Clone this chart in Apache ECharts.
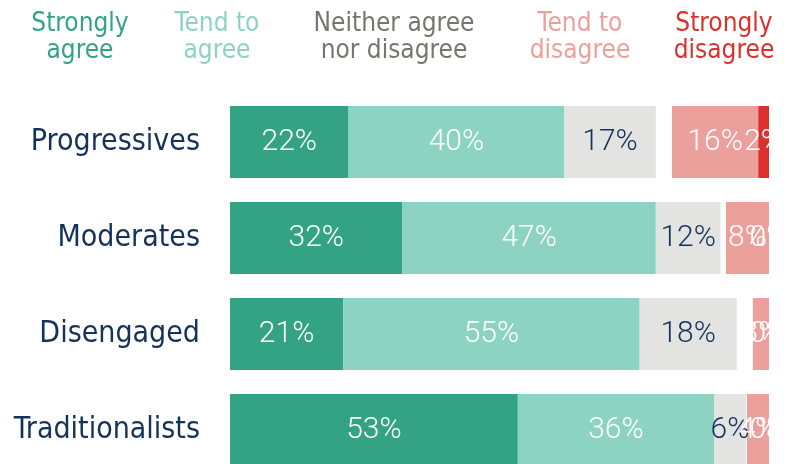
<!DOCTYPE html>
<html style="height: 100%">

<head>
    <meta charset="utf-8">
    <title>index</title>
    <style>
        html, body { margin: 0; padding: 0; background: #fff; }
        #container {
            width: 794px;
            height: 464px;
        }
    </style>
</head>

<body>
    <div id="container"></div>
</body>
<script src="https://cdn.jsdelivr.net/npm/echarts@6/dist/echarts.min.js"></script>
<script type="text/javascript">
    // data
    var categories = ['Progressives', 'Moderates', 'Disengaged', 'Traditionalists'];
    var stronglyAgree = [22, 32, 21, 53.4];
    var tendAgree = [40, 47, 55, 36.4];
    var neither = [17, 12, 18, 5.9];
    var tendDisagree = [16, 8, 3, 4.1];
    var stronglyDisagree = [2, 0, 0, 0];
    var headers = ['Strongly\nagree', 'Tend to\nagree', 'Neither agree\nnor disagree', 'Tend to\ndisagree', 'Strongly\ndisagree'];

    var colors = ['#33a384', '#8cd3c1', '#e3e3e1', '#eba09b', '#dc302c'];
    var headColors = ['#33a384', '#8cd3c1', '#74776c', '#eba09b', '#dc302c'];
    var navy = '#14325a';
    var catFont = 'DejaVu Sans Condensed';
    var numFont = 'Roboto';

    // gap between agree side and disagree side (disagree is right aligned at 100)
    var spacer = categories.map(function (c, i) {
        return Math.max(0, 100 - stronglyAgree[i] - tendAgree[i] - neither[i] - tendDisagree[i] - stronglyDisagree[i]);
    });

    function seg(name, data, color, textColor) {
        return {
            name: name,
            type: 'bar',
            stack: 'all',
            data: data,
            barWidth: 72,
            clip: false,
            itemStyle: { color: color },
            label: {
                show: true,
                position: 'inside',
                color: textColor,
                fontFamily: numFont,
                fontWeight: 300,
                fontSize: 30,
                formatter: function (p) { return Math.round(p.value) + '%'; }
            },
            emphasis: { disabled: true },
            animation: false
        };
    }

    var series = [
        seg('Strongly agree', stronglyAgree, colors[0], '#fff'),
        seg('Tend to agree', tendAgree, colors[1], '#fff'),
        seg('Neither', neither, colors[2], navy),
        {
            name: 'gap', type: 'bar', stack: 'all', data: spacer, barWidth: 72, clip: false,
            itemStyle: { color: 'rgba(0,0,0,0)' }, label: { show: false },
            emphasis: { disabled: true }, animation: false
        },
        seg('Tend to disagree', tendDisagree, colors[3], '#fff'),
        seg('Strongly disagree', stronglyDisagree, colors[4], '#fff')
    ];

    var headX = [80, 217, 394, 580, 724];
    var graphics = headers.map(function (h, i) {
        return {
            type: 'text',
            x: headX[i],
            y: 11,
            style: {
                text: h,
                fill: headColors[i],
                font: '26px "' + catFont + '"',
                textAlign: 'center',
                lineHeight: 27
            }
        };
    });
    // mask labels that run past the plot end
    graphics.push({
        type: 'rect', z: 100, shape: { x: 770, y: 96, width: 30, height: 380 },
        style: { fill: '#fff' }
    });

    var dom = document.getElementById("container");
    var myChart = echarts.init(dom, null, { renderer: 'canvas' });
    var option = {
        animation: false,
        grid: { left: 230, right: 25, top: 94, height: 384, containLabel: false, outerBoundsMode: 'none' },
        xAxis: { type: 'value', min: 0, max: 100, show: false },
        yAxis: {
            type: 'category',
            data: categories,
            inverse: true,
            axisLine: { show: false },
            axisTick: { show: false },
            axisLabel: { color: navy, fontFamily: catFont, fontSize: 30, margin: 30 }
        },
        graphic: graphics,
        series: series
    };
    myChart.setOption(option, true);
</script>

</html>
